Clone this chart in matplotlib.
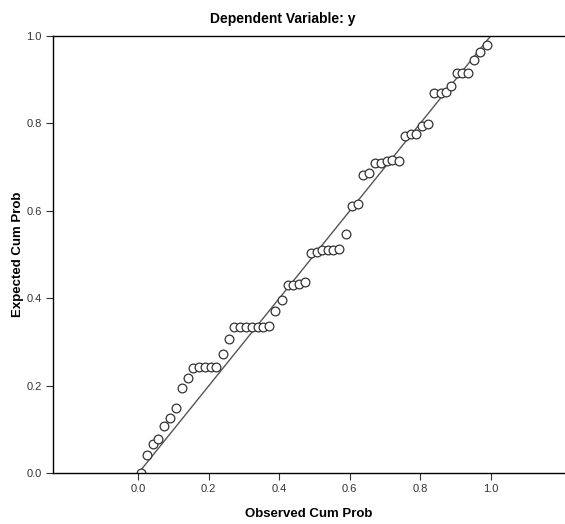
import matplotlib
matplotlib.use('Agg')
import matplotlib.pyplot as plt

# observed vs expected cumulative probabilities
observed = [0.008, 0.026, 0.041, 0.057, 0.073, 0.090, 0.107, 0.123, 0.140, 0.156,
            0.172, 0.188, 0.205, 0.221, 0.240, 0.257, 0.272, 0.289, 0.305, 0.322,
            0.339, 0.355, 0.371, 0.389, 0.407, 0.424, 0.440, 0.456, 0.472, 0.489,
            0.506, 0.522, 0.538, 0.554, 0.570, 0.589, 0.606, 0.623, 0.638, 0.655,
            0.672, 0.688, 0.705, 0.721, 0.739, 0.757, 0.773, 0.788, 0.804, 0.821,
            0.839, 0.858, 0.873, 0.887, 0.904, 0.919, 0.936, 0.953, 0.970, 0.989]
expected = [0.001, 0.042, 0.068, 0.079, 0.109, 0.127, 0.149, 0.196, 0.219, 0.241,
            0.242, 0.242, 0.242, 0.242, 0.273, 0.306, 0.335, 0.335, 0.335, 0.335,
            0.335, 0.335, 0.337, 0.372, 0.396, 0.431, 0.431, 0.434, 0.437, 0.504,
            0.505, 0.511, 0.511, 0.511, 0.513, 0.547, 0.611, 0.616, 0.682, 0.687,
            0.710, 0.709, 0.715, 0.716, 0.715, 0.771, 0.775, 0.775, 0.794, 0.799,
            0.869, 0.869, 0.873, 0.886, 0.916, 0.916, 0.916, 0.945, 0.964, 0.979]
ref_line = [0.0, 1.0]
ticks = [0.0, 0.2, 0.4, 0.6, 0.8, 1.0]

font = ['Liberation Sans', 'DejaVu Sans']

fig = plt.figure(figsize=(5.65, 5.24), dpi=100)
ax = fig.add_axes([53 / 565, (524 - 473.3) / 524, 1 - 53 / 565, (473.3 - 36) / 524])

ax.plot(ref_line, ref_line, color='#555555', lw=1.0, zorder=1)
ax.plot(observed, expected, 'o', ms=6.3, mfc='white', mec='#333333', mew=0.9, zorder=2)

ax.set_xlim(-0.242, 1.211)
ax.set_ylim(0, 1)
ax.set_xticks(ticks)
ax.set_yticks(ticks)
ax.set_xticklabels(['%.1f' % t for t in ticks], family=font, fontsize=8, color='#333333')
ax.set_yticklabels(['%.1f' % t for t in ticks], family=font, fontsize=8, color='#333333')
ax.tick_params(direction='out', length=5, width=0.8, color='#333333', pad=3)

ax.spines['right'].set_visible(False)
for s in ['left', 'top', 'bottom']:
    ax.spines[s].set_linewidth(1.0)

fig.text(309 / 565, 1 - 514 / 524, 'Observed Cum Prob', family=font, fontsize=9.5,
         fontweight='bold', ha='center', va='center')
fig.text(18 / 565, 1 - 254.5 / 524, 'Expected Cum Prob', family=font, fontsize=9.5,
         fontweight='bold', ha='center', va='center', rotation=90)
fig.text(0.5, 1 - 19 / 524, 'Dependent Variable: y', family=font, fontsize=10,
         fontweight='bold', ha='center', va='center')

fig.savefig('out.png', dpi=100)
